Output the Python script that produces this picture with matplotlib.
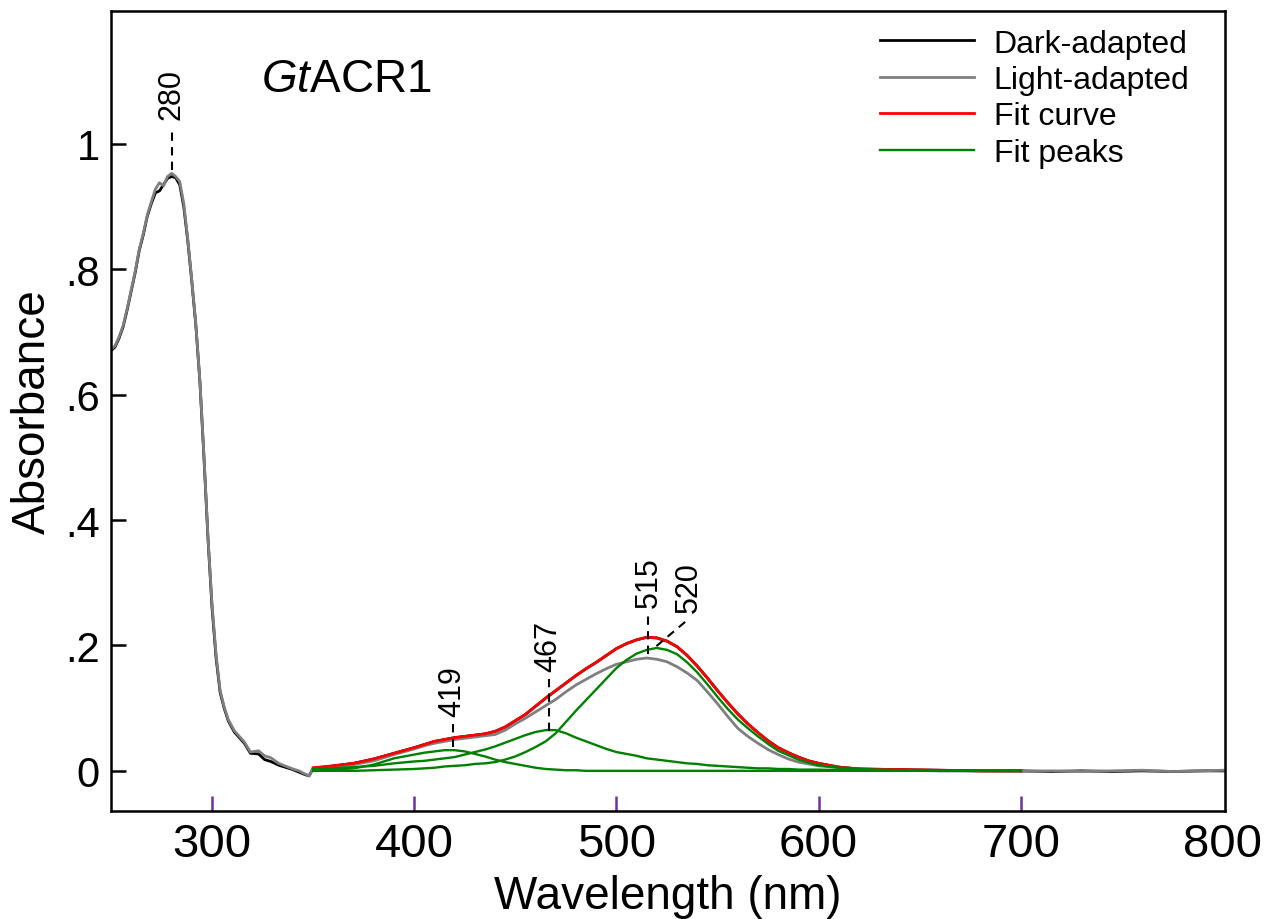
import matplotlib
matplotlib.use('Agg')
import matplotlib.pyplot as plt

plt.rcParams['font.family'] = ['Liberation Sans', 'DejaVu Sans']
plt.rcParams['mathtext.fontset'] = 'custom'
plt.rcParams['mathtext.rm'] = 'Liberation Sans'
plt.rcParams['mathtext.it'] = 'Liberation Sans:italic'

# UV part of both spectra
wl_uv = [250, 252, 254, 256, 258, 260, 262, 264, 266, 268, 270, 272, 274, 276,
         278, 280, 282, 284, 286, 288, 290, 292, 294, 296, 298, 300, 302, 304,
         306, 308, 311, 316, 319, 323, 326, 329, 333, 336, 340, 343, 346, 348, 350]
dark_uv = [0.670, 0.676, 0.690, 0.708, 0.735, 0.765, 0.795, 0.830, 0.855, 0.885,
           0.905, 0.922, 0.925, 0.935, 0.945, 0.948, 0.946, 0.935, 0.900, 0.845,
           0.780, 0.710, 0.620, 0.500, 0.370, 0.260, 0.180, 0.125, 0.100, 0.080,
           0.062, 0.044, 0.028, 0.027, 0.018, 0.015, 0.009, 0.006, 0.002, -0.002,
           -0.006, -0.008, 0.004]
light_uv = [0.672, 0.678, 0.692, 0.710, 0.737, 0.767, 0.797, 0.832, 0.857, 0.887,
            0.908, 0.928, 0.938, 0.933, 0.948, 0.953, 0.948, 0.940, 0.905, 0.848,
            0.782, 0.712, 0.622, 0.502, 0.372, 0.265, 0.185, 0.128, 0.102, 0.082,
            0.064, 0.046, 0.030, 0.032, 0.024, 0.021, 0.012, 0.008, 0.003, 0.000,
            -0.005, -0.008, 0.004]

# visible part, where the fit was done
wl_vis = [350, 360, 370, 380, 390,
          400, 405, 410, 415, 420, 425, 430, 435, 440, 445, 450, 455, 460, 465,
          470, 475, 480, 485, 490, 495, 500, 505, 510, 515, 520, 525, 530, 535,
          540, 545, 550, 555, 560, 565, 570, 575, 580, 585, 590, 595, 600,
          610, 620, 640, 660, 680, 700]
fit_curve = [0.005, 0.008, 0.012, 0.019, 0.028,
             0.037, 0.042, 0.047, 0.050, 0.053, 0.055, 0.057, 0.059, 0.063, 0.070,
             0.080, 0.090, 0.103, 0.116, 0.128, 0.140, 0.152, 0.163, 0.173, 0.184,
             0.195, 0.203, 0.209, 0.213, 0.212, 0.207, 0.198, 0.184, 0.167, 0.148,
             0.128, 0.109, 0.091, 0.075, 0.061, 0.048, 0.037, 0.029, 0.022, 0.016,
             0.012, 0.006, 0.003, 0.002, 0.001, 0.000, 0.000]
dark_vis = fit_curve
light_vis = [0.004, 0.006, 0.010, 0.016, 0.026,
             0.035, 0.040, 0.044, 0.047, 0.050, 0.052, 0.054, 0.056, 0.058, 0.065,
             0.075, 0.084, 0.094, 0.104, 0.114, 0.126, 0.137, 0.146, 0.155, 0.163,
             0.170, 0.174, 0.178, 0.180, 0.178, 0.174, 0.166, 0.156, 0.144, 0.126,
             0.107, 0.087, 0.068, 0.055, 0.044, 0.034, 0.026, 0.019, 0.014, 0.011,
             0.008, 0.005, 0.003, 0.001, 0.000, 0.000, -0.001]
peak_419 = [0.001, 0.002, 0.004, 0.010, 0.020,
            0.026, 0.029, 0.031, 0.033, 0.033, 0.031, 0.027, 0.023, 0.018, 0.014,
            0.011, 0.008, 0.005, 0.003, 0.002, 0.001, 0.001, 0.000, 0.000, 0.000,
            0.000, 0.000, 0.000, 0.000, 0.000, 0.000, 0.000, 0.000, 0.000, 0.000,
            0.000, 0.000, 0.000, 0.000, 0.000, 0.000, 0.000, 0.000, 0.000, 0.000,
            0.000, 0.000, 0.000, 0.000, 0.000, 0.000, 0.000]
peak_467 = [0.003, 0.004, 0.006, 0.008, 0.012,
            0.015, 0.016, 0.018, 0.020, 0.022, 0.026, 0.030, 0.034, 0.039, 0.045,
            0.051, 0.057, 0.062, 0.065, 0.065, 0.060, 0.053, 0.047, 0.041, 0.035,
            0.030, 0.027, 0.024, 0.020, 0.018, 0.016, 0.014, 0.012, 0.011, 0.009,
            0.008, 0.007, 0.006, 0.005, 0.004, 0.004, 0.003, 0.003, 0.002, 0.002,
            0.002, 0.001, 0.001, 0.001, 0.000, 0.000, 0.000]
peak_520 = [0.000, 0.000, 0.000, 0.001, 0.002,
            0.003, 0.004, 0.005, 0.007, 0.008, 0.009, 0.011, 0.012, 0.014, 0.018,
            0.023, 0.030, 0.038, 0.047, 0.060, 0.078, 0.096, 0.113, 0.130, 0.147,
            0.164, 0.177, 0.187, 0.193, 0.196, 0.193, 0.186, 0.173, 0.157, 0.138,
            0.118, 0.099, 0.082, 0.068, 0.055, 0.043, 0.032, 0.025, 0.018, 0.013,
            0.009, 0.005, 0.003, 0.001, 0.000, 0.000, 0.000]

# beyond the fit range
wl_ir = [700, 715, 730, 745, 760, 775, 790, 800]
dark_ir = [0.000, -0.001, 0.000, -0.001, 0.000, -0.001, 0.000, 0.000]
light_ir = [-0.001, 0.000, -0.001, 0.000, 0.001, -0.001, 0.000, 0.001]

# peak labels: text, x, leader start, leader end
peaks = [('280', 280, 0.958, 1.027),
         ('419', 419, 0.038, 0.075),
         ('467', 466.5, 0.064, 0.147),
         ('515', 515.8, 0.187, 0.250)]

fig = plt.figure(figsize=(12.68, 9.2), dpi=100)
ax = fig.add_axes([0.0875, 0.1174, 0.8786, 0.8696])

ax.plot(wl_uv + wl_vis[1:] + wl_ir[1:], dark_uv + dark_vis[1:] + dark_ir[1:],
        color='black', lw=2.0, label='Dark-adapted')
ax.plot(wl_uv + wl_vis[1:] + wl_ir[1:], light_uv + light_vis[1:] + light_ir[1:],
        color='#7f7f7f', lw=2.0, label='Light-adapted')
ax.plot(wl_vis, fit_curve, color='red', lw=2.0, label='Fit curve')
ax.plot(wl_vis, peak_419, color='green', lw=1.7, label='Fit peaks')
ax.plot(wl_vis, peak_467, color='green', lw=1.7)
ax.plot(wl_vis, peak_520, color='green', lw=1.7)

for label, x, y0, y1 in peaks:
    ax.plot([x, x], [y0, y1], color='black', lw=1.5, dashes=(4, 3))
    ax.text(x, y1 + 0.012, label, rotation=90, ha='center', va='bottom',
            fontsize=22)
# 520 has a slanted leader
ax.plot([519.8, 535.6], [0.199, 0.242], color='black', lw=1.5, dashes=(4, 3))
ax.text(535.6, 0.254, '520', rotation=90, ha='center', va='bottom', fontsize=22)

ax.text(324.3, 1.085, r'$\mathit{Gt}$ACR1', fontsize=33, ha='left', va='baseline')

ax.set_xlim(250, 801)
ax.set_ylim(-0.064, 1.212)
ax.set_xticks([300, 400, 500, 600, 700, 800])
ax.set_yticks([0, 0.2, 0.4, 0.6, 0.8, 1.0])
ax.set_yticklabels(['0', '.2', '.4', '.6', '.8', '1'])
ax.tick_params(axis='x', direction='in', length=11, width=1.8, color='#7030a0',
               labelsize=34, pad=8)
ax.tick_params(axis='y', direction='in', length=11, width=1.8, color='black',
               labelsize=30, pad=8)
ax.xaxis.get_major_ticks()[-1].tick1line.set_visible(False)
for s in ax.spines.values():
    s.set_linewidth(1.8)

ax.set_xlabel('Wavelength (nm)', fontsize=33)
ax.xaxis.set_label_coords(0.5, -0.106)
ax.xaxis.label.set_va('center')
ax.set_ylabel('Absorbance', fontsize=33)
ax.yaxis.set_label_coords(-0.07, 0.5)
ax.yaxis.label.set_va('center')

ax.legend(loc='upper right', bbox_to_anchor=(0.984, 1.0), frameon=False,
          fontsize=23, handlelength=2.95, handletextpad=0.63, labelspacing=0.2,
          borderaxespad=0.15)

fig.savefig('out.png', dpi=100)
